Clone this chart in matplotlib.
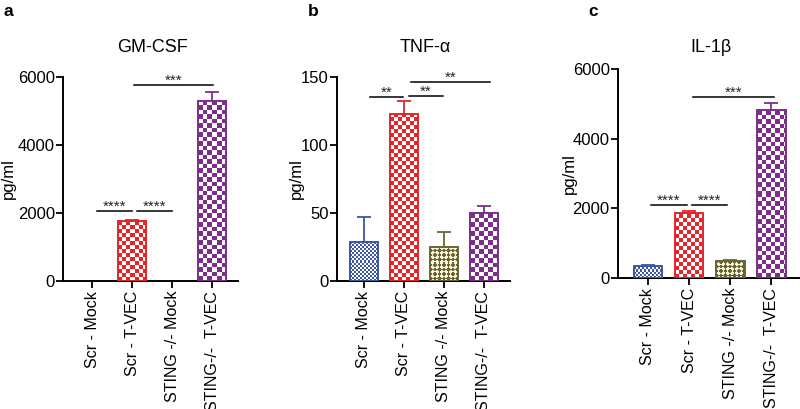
import matplotlib
matplotlib.use("Agg")
import matplotlib.pyplot as plt
import matplotlib.colors as mcolors
import numpy as np

plt.rcParams['font.family'] = ['Liberation Sans', 'DejaVu Sans']

# data
groups = ["Scr - Mock", "Scr - T-VEC", "STING -/- Mock", "STING-/-  T-VEC"]
colors = ["#3c56a8", "#e4262b", "#6b6536", "#7b2f8b"]
backs = ["#ffffff", "#ffffff", "#f7f2d8", "#ffffff"]
# texture: (kind, cell size in px)
textures = [("check", 2), ("check", 4), ("diamond", 4.5), ("check", 4.5)]

gmcsf = [0, 1750, 0, 5280]
gmcsf_err = [0, 50, 0, 290]
tnfa = [28.9, 122.6, 25.2, 49.8]
tnfa_err = [18.4, 10.0, 11.1, 5.6]
il1b = [350, 1880, 480, 4820]
il1b_err = [30, 50, 40, 200]

# significance brackets: (x start, x end, y, label)
sig_a = [(0.12, 0.99, 2070, "****"), (1.12, 1.98, 2070, "****"), (1.05, 3.02, 5770, "***")]
sig_b = [(0.15, 0.98, 135.5, "**"), (1.13, 1.98, 136, "**"), (1.19, 3.17, 146.5, "**")]
sig_c = [(0.07, 0.94, 2090, "****"), (1.07, 1.93, 2090, "****"), (1.09, 3.06, 5190, "***")]


def texture(ax, patch, color, back, kind, cell):
    '''fill a bar with a checker / diamond pattern clipped to the bar'''
    (x0, y0), (x1, y1) = ax.transData.transform(patch.get_bbox().get_points())
    w = max(int(round(x1 - x0)), 1)
    h = max(int(round(y1 - y0)), 1)
    jj, ii = np.meshgrid(np.arange(w), np.arange(h))
    if kind == "check":
        mask = ((ii // cell).astype(int) + (jj // cell).astype(int)) % 2 == 0
    else:
        mask = (((ii + jj) // cell).astype(int) + ((ii - jj) // cell).astype(int)) % 2 == 0
    c1 = np.array(mcolors.to_rgb(color))
    c2 = np.array(mcolors.to_rgb(back))
    img = np.where(mask[..., None], c1, c2)
    bb = patch.get_bbox()
    im = ax.imshow(img, extent=(bb.x0, bb.x1, bb.y0, bb.y1), origin="lower",
                   interpolation="nearest", aspect="auto", zorder=2)
    im.set_clip_path(patch)


fig = plt.figure(figsize=(8, 4.09), dpi=100)

panels = [
    ("a", "GM-CSF", gmcsf, gmcsf_err, sig_a, [0.079, 0.313, 0.219, 0.499], (-0.725, 3.65), 6000, 2000, 0.005, -0.27),
    ("b", "TNF-\u03b1", tnfa, tnfa_err, sig_b, [0.421, 0.313, 0.216, 0.499], (-0.68, 3.65), 150, 50, 0.385, -0.19),
    ("c", "IL-1\u03b2", il1b, il1b_err, sig_c, [0.7725, 0.320, 0.2275, 0.512], (-0.73, 3.7), 6000, 2000, 0.735, -0.225),
]

for letter, title, vals, errs, sigs, pos, xl, ymax, ystep, lx, labx in panels:
    ax = fig.add_axes(pos)
    ax.set_xlim(xl)
    ax.set_ylim(0, ymax)
    x = list(range(len(groups)))
    for i in x:
        if vals[i] <= 0:
            continue
        bars = ax.bar(i, vals[i], width=0.7, facecolor="none", edgecolor=colors[i],
                      linewidth=1.4, zorder=3)
        texture(ax, bars[0], colors[i], backs[i], *textures[i])
        if errs[i] > 0:
            ax.errorbar(i, vals[i], yerr=[[0], [errs[i]]], color=colors[i],
                        capsize=5, elinewidth=1.3, capthick=1.3, zorder=1)
    ax.set_xlim(xl)
    ax.set_ylim(0, ymax)

    for x0, x1, y, lab in sigs:
        ax.plot([x0, x1], [y, y], color="black", lw=1.1, clip_on=False)
        ax.text((x0 + x1) / 2, y, lab, ha="center", va="baseline", fontsize=11, color="#222222")

    ax.set_yticks(range(0, ymax + 1, ystep))
    ax.set_xticks(x)
    ax.set_xticklabels(groups, rotation=90, fontsize=11.5)
    ax.tick_params(axis="y", labelsize=12, width=1.3, length=5, pad=1)
    ax.tick_params(axis="x", width=1.3, length=5, pad=2)
    for s in ["top", "right"]:
        ax.spines[s].set_visible(False)
    for s in ["left", "bottom"]:
        ax.spines[s].set_linewidth(1.4)
    ax.set_ylabel("pg/ml", fontsize=12)
    ax.yaxis.set_label_coords(labx, 0.5)
    fig.text(pos[0] + pos[2] / 2 + 0.002, 1 - 48 / 409, title, fontsize=13,
             ha="center", va="center")
    fig.text(lx, 1 - 12 / 409, letter, fontsize=12.5, fontweight="bold", va="center")

fig.savefig("out.png", dpi=100)
